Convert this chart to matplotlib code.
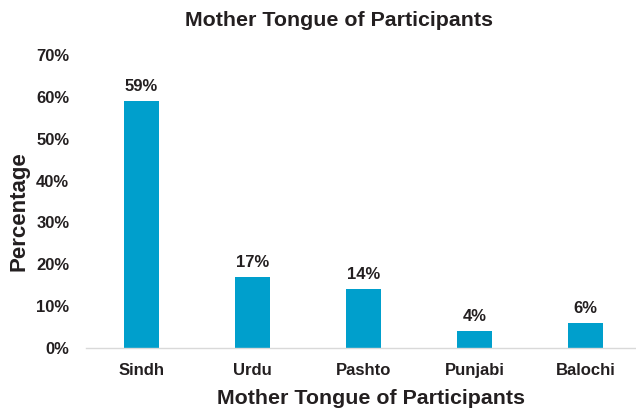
import matplotlib
matplotlib.use("Agg")
import matplotlib.pyplot as plt
from matplotlib.ticker import FuncFormatter

categories = ["Sindh", "Urdu", "Pashto", "Punjabi", "Balochi"]
values = [59, 17, 14, 4, 6]
yticks = [0, 10, 20, 30, 40, 50, 60, 70]

plt.rcParams['font.family'] = ['Liberation Sans', 'DejaVu Sans']
plt.rcParams['font.weight'] = 'bold'
txt = '#231F20'
W, H = 636, 409
fig = plt.figure(figsize=(W/100, H/100), dpi=100)
ax = fig.add_axes([86/W, (H-348)/H, (641-86)/W, (348-55)/H])

x = range(len(categories))
bars = ax.bar(x, values, width=0.31, color='#009FCC', zorder=2)
for xi, v in zip(x, values):
    ax.annotate(f"{v}%", (xi, v), xytext=(0, 5), textcoords='offset points',
                ha='center', va='bottom', fontsize=12, fontweight='bold', color=txt)

ax.set_xlim(-0.5, 4.5)
ax.set_ylim(0, 70)
ax.set_yticks(yticks)
ax.yaxis.set_major_formatter(FuncFormatter(lambda v, p: f"{int(v)}%"))
ax.set_xticks(list(x))
ax.set_xticklabels(categories)
for s in ['top', 'right', 'left']:
    ax.spines[s].set_visible(False)
ax.spines['bottom'].set_color('#D9D9D9')
ax.spines['bottom'].set_linewidth(1.0)
ax.tick_params(axis='both', length=0, labelsize=12, labelcolor=txt)
ax.tick_params(axis='y', pad=12)
ax.tick_params(axis='x', pad=11)
for lab in ax.get_xticklabels() + ax.get_yticklabels():
    lab.set_fontweight('bold')

fig.text(339/W, 1-20/H, "Mother Tongue of Participants", ha='center', va='center',
         fontsize=15.4, fontweight='bold', color=txt)
fig.text(371/W, 1-398/H, "Mother Tongue of Participants", ha='center', va='center',
         fontsize=15.4, fontweight='bold', color=txt)
fig.text(19/W, 1-211/H, "Percentage", ha='center', va='center', rotation=90,
         fontsize=16, fontweight='bold', color=txt)

fig.savefig("out.png", dpi=100)
